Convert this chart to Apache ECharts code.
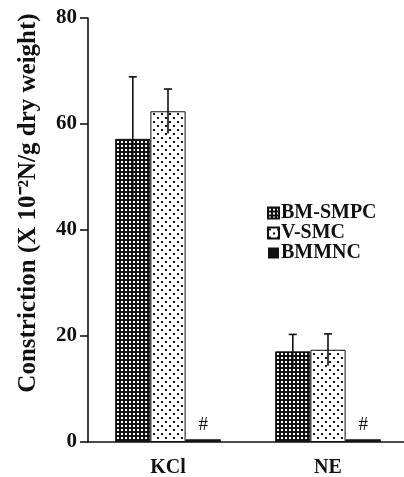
<!DOCTYPE html>
<html>
<head>
<meta charset="utf-8">
<script src="https://cdn.jsdelivr.net/npm/echarts@6/dist/echarts.min.js"></script>
<style>
  html, body { margin: 0; padding: 0; background: #fff; }
  #chart { width: 404px; height: 477px; }
</style>
</head>
<body>
<div id="chart"></div>
<script>
var categories = ["KCl", "NE"];
var bmSmpc = [57.2, 17.1];
var bmSmpcErr = [11.7, 3.2];
var vSmc = [62.4, 17.4];
var vSmcErr = [4.2, 3.0];
var bmmnc = [0.5, 0.5];
var yTicks = [0, 20, 40, 60, 80];

var FONT = "'Liberation Serif', 'Times New Roman', serif";

// hatch patterns for the bars
function makePattern(size, bg, fg, dots) {
  var c = document.createElement("canvas");
  c.width = size;
  c.height = size;
  var ctx = c.getContext("2d");
  ctx.fillStyle = bg;
  ctx.fillRect(0, 0, size, size);
  ctx.fillStyle = fg;
  dots.forEach(function (d) {
    ctx.fillRect(d[0], d[1], d[2], d[2]);
  });
  return { image: c, repeat: "repeat" };
}
var darkDots = makePattern(4, "#111", "#fff", [[1, 1, 2]]);
var lightDots = makePattern(8, "#fff", "#111", [[1, 1, 2], [5, 5, 2]]);

var barW = 0.22; // share of the category band

function errorSeries(name, vals, errs, idx) {
  return {
    name: name + " err",
    type: "custom",
    z: 5,
    silent: true,
    data: vals.map(function (v, i) { return [i, v, errs[i]]; }),
    encode: { x: 0, y: 1 },
    renderItem: function (params, api) {
      var i = api.value(0);
      var v = api.value(1);
      var e = api.value(2);
      var band = api.size([1, 0])[0];
      var top = api.coord([i, v + e]);
      var bot = api.coord([i, v - e]);
      var x = top[0] + (idx - 1) * barW * band;
      var st = { stroke: "#111", lineWidth: 1.6 };
      return {
        type: "group",
        children: [
          { type: "line", shape: { x1: x, y1: top[1], x2: x, y2: bot[1] }, style: st },
          { type: "line", shape: { x1: x - 4, y1: top[1], x2: x + 4, y2: top[1] }, style: st }
        ]
      };
    }
  };
}

var chart = echarts.init(document.getElementById("chart"));
var option = {
  animation: false,
  backgroundColor: "#fff",
  grid: { left: 88, right: -4, top: 18, bottom: 35, containLabel: false, outerBoundsMode: "none" },
  legend: {
    data: ["BM-SMPC", "V-SMC", "BMMNC"],
    orient: "vertical",
    left: 262,
    top: 198,
    itemWidth: 11,
    itemHeight: 11,
    itemGap: 0,
    icon: "rect",
    textStyle: { fontFamily: FONT, fontWeight: "bold", fontSize: 20, lineHeight: 20, color: "#111", padding: [0, 0, 0, -3] }
  },
  xAxis: {
    type: "category",
    data: categories,
    axisLine: { lineStyle: { color: "#111", width: 1.6 } },
    axisTick: { lineStyle: { color: "#111", width: 1.6 }, length: 5 },
    axisLabel: { fontFamily: FONT, fontWeight: "bold", fontSize: 20, color: "#111", margin: 16 }
  },
  yAxis: {
    type: "value",
    min: 0,
    max: 80,
    interval: 20,
    name: "Constriction (X 10\u207B\u00B2N/g dry weight)",
    nameLocation: "middle",
    nameGap: 47,
    nameRotate: 90,
    nameTextStyle: { fontFamily: FONT, fontWeight: "bold", fontSize: 25, color: "#111", padding: [0, 0, 0, 54] },
    axisLine: { show: true, lineStyle: { color: "#111", width: 1.6 } },
    axisTick: { show: true, length: 8, lineStyle: { color: "#111", width: 1.6 } },
    splitLine: { show: false },
    axisLabel: {
      fontFamily: FONT, fontWeight: "bold", fontSize: 21, color: "#111", margin: 11,
      formatter: function (v) { return yTicks.indexOf(v) >= 0 ? String(v) : ""; }
    }
  },
  series: [
    {
      name: "BM-SMPC", type: "bar", data: bmSmpc, barWidth: "22%", barGap: "0%",
      itemStyle: { color: darkDots, borderColor: "#111", borderWidth: 1 }
    },
    {
      name: "V-SMC", type: "bar", data: vSmc, barWidth: "22%", barGap: "0%",
      itemStyle: { color: lightDots, borderColor: "#111", borderWidth: 1 }
    },
    {
      name: "BMMNC", type: "bar", data: bmmnc, barWidth: "22%", barGap: "0%",
      itemStyle: { color: "#111" },
      label: { show: true, position: "top", distance: 5, formatter: "#", fontFamily: FONT, fontSize: 19, color: "#111" }
    },
    errorSeries("BM-SMPC", bmSmpc, bmSmpcErr, 0),
    errorSeries("V-SMC", vSmc, vSmcErr, 1)
  ]
};
chart.setOption(option);
</script>
</body>
</html>
